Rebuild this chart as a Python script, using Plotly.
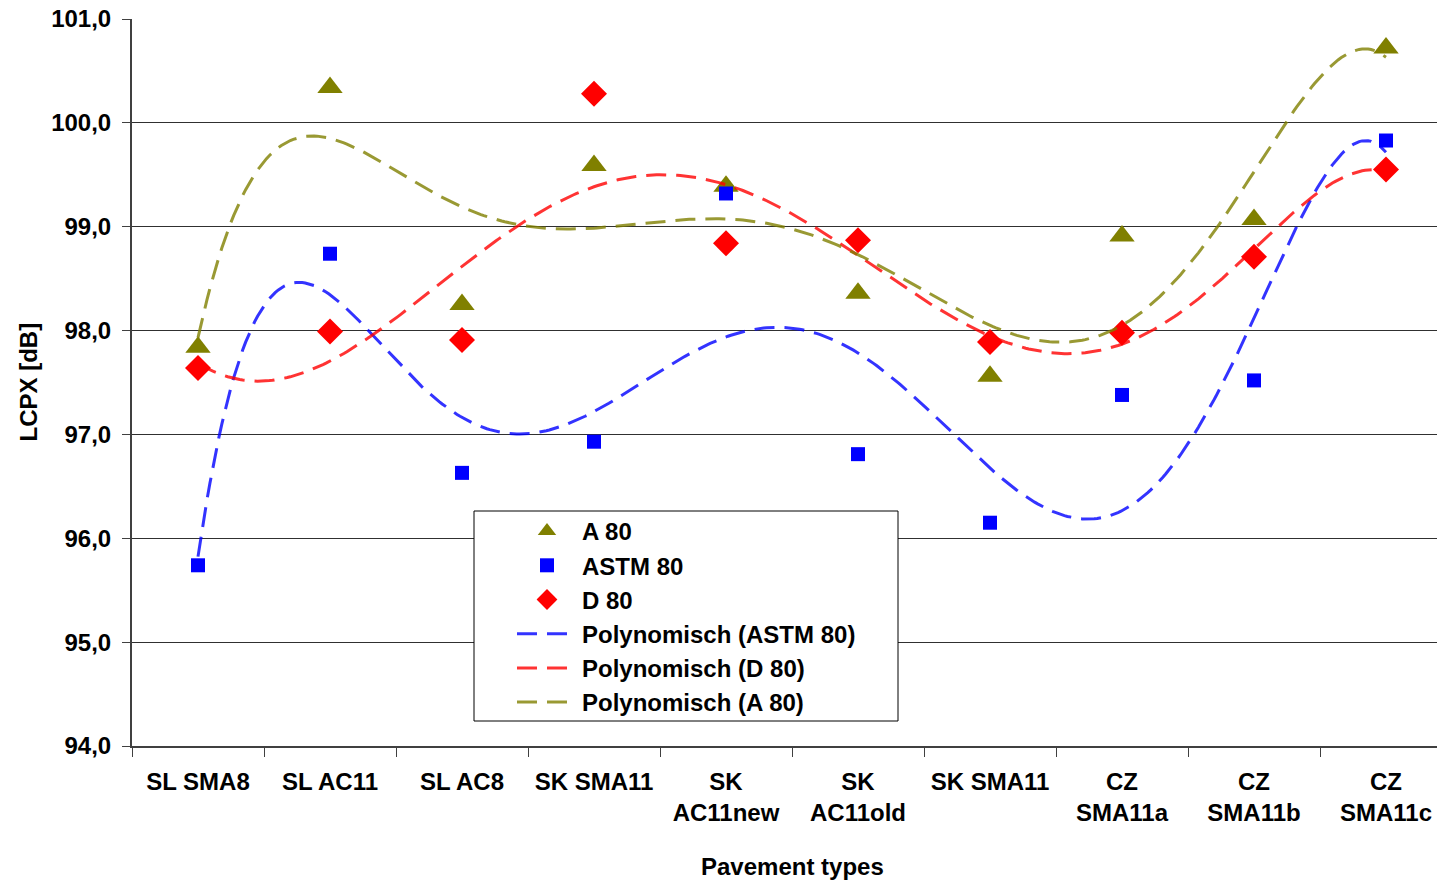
import numpy as np
import plotly.graph_objects as go

categories = ["SL SMA8", "SL AC11", "SL AC8", "SK SMA11", "SK<br>AC11new",
              "SK<br>AC11old", "SK SMA11", "CZ<br>SMA11a", "CZ<br>SMA11b", "CZ<br>SMA11c"]
a80 = [97.84, 100.34, 98.25, 99.59, 99.39, 98.36, 97.56, 98.91, 99.07, 100.72]
astm80 = [95.74, 98.74, 96.63, 96.93, 99.32, 96.81, 96.15, 97.38, 97.52, 99.83]
d80 = [97.64, 97.99, 97.91, 100.28, 98.84, 98.87, 97.89, 97.98, 98.71, 99.55]
y_ticks = [94, 95, 96, 97, 98, 99, 100, 101]
poly_order = 6

x = np.arange(1, len(categories) + 1)
xf = np.linspace(1, len(categories), 400)

def trend(vals):
    c = np.polyfit(x, vals, poly_order)
    return np.polyval(c, xf)

OLIVE = "#808000"
BLUE = "#0000FF"
RED = "#FF0000"
font = "Liberation Sans, Arial, sans-serif"
FS = 24

fig = go.Figure()
fig.add_trace(go.Scatter(x=x, y=a80, mode="markers", name="<b>A 80</b>",
                         marker=dict(symbol="triangle-up", size=22, color=OLIVE)))
fig.add_trace(go.Scatter(x=x, y=astm80, mode="markers", name="<b>ASTM 80</b>",
                         marker=dict(symbol="square", size=14, color=BLUE)))
fig.add_trace(go.Scatter(x=x, y=d80, mode="markers", name="<b>D 80</b>",
                         marker=dict(symbol="diamond", size=20, color=RED)))
dash = "20px,10px"
fig.add_trace(go.Scatter(x=xf, y=trend(astm80), mode="lines", name="<b>Polynomisch (ASTM 80)</b>",
                         line=dict(color="rgba(0,0,255,0.8)", width=3, dash=dash)))
fig.add_trace(go.Scatter(x=xf, y=trend(d80), mode="lines", name="<b>Polynomisch (D 80)</b>",
                         line=dict(color="rgba(255,0,0,0.8)", width=3, dash=dash)))
fig.add_trace(go.Scatter(x=xf, y=trend(a80), mode="lines", name="<b>Polynomisch (A 80)</b>",
                         line=dict(color="rgba(128,128,0,0.8)", width=3, dash=dash)))

W, H = 1437, 880
L, T, B = 132, 19, 134
pw = W - L
ph = H - T - B

def px_x(p):
    return (p - L) / pw

def px_y(p):
    return (H - B - p) / ph

fig.add_shape(type="rect", xref="paper", yref="paper",
              x0=px_x(474), x1=px_x(898), y0=px_y(721), y1=px_y(511),
              fillcolor="white", line=dict(color="black", width=1), layer="above")

fig.update_layout(
    width=W, height=H,
    margin=dict(l=L, r=0, t=T, b=B),
    paper_bgcolor="white", plot_bgcolor="white",
    separators=",.",
    font=dict(family=font, size=FS, color="black"),
    showlegend=True,
    legend=dict(x=px_x(512), y=px_y(509), xanchor="left", yanchor="top",
                bgcolor="rgba(0,0,0,0)", borderwidth=0,
                font=dict(family=font, size=FS, color="black"),
                itemwidth=60, tracegroupgap=0),
    xaxis=dict(range=[0.5, 0.5 + pw / 132], tickmode="array", tickvals=list(x),
               ticktext=["<b>%s</b>" % c for c in categories], ticks="", ticklen=0,
               ticklabelstandoff=13,
               showgrid=False, zeroline=False, showline=True, linecolor="#404040", linewidth=2,
               tickfont=dict(family=font, size=FS, color="black"),
               minor=dict(tick0=0.5, dtick=1, ticks="outside", ticklen=9, tickcolor="#404040",
                          tickwidth=1, showgrid=False)),
    yaxis=dict(range=[94, 101], tickmode="array", tickvals=y_ticks,
               ticktext=["<b>%s</b>" % ("%.1f" % v).replace(".", ",") for v in y_ticks],
               ticks="outside", ticklen=8, tickcolor="#404040", ticklabelstandoff=6,
               showgrid=True, gridcolor="#303030", gridwidth=1, zeroline=False,
               showline=True, linecolor="#404040", linewidth=2,
               tickfont=dict(family=font, size=FS, color="black")),
)
fig.add_annotation(text="<b>Pavement types</b>", xref="paper", yref="paper",
                   x=px_x(792), y=px_y(866), xanchor="center", yanchor="middle",
                   showarrow=False, font=dict(family=font, size=FS, color="black"))
fig.add_annotation(text="<b>LCPX [dB]</b>", xref="paper", yref="paper", textangle=-90,
                   x=px_x(28), y=0.5, xanchor="center", yanchor="middle",
                   showarrow=False, font=dict(family=font, size=FS, color="black"))
fig.write_html("out.html")
